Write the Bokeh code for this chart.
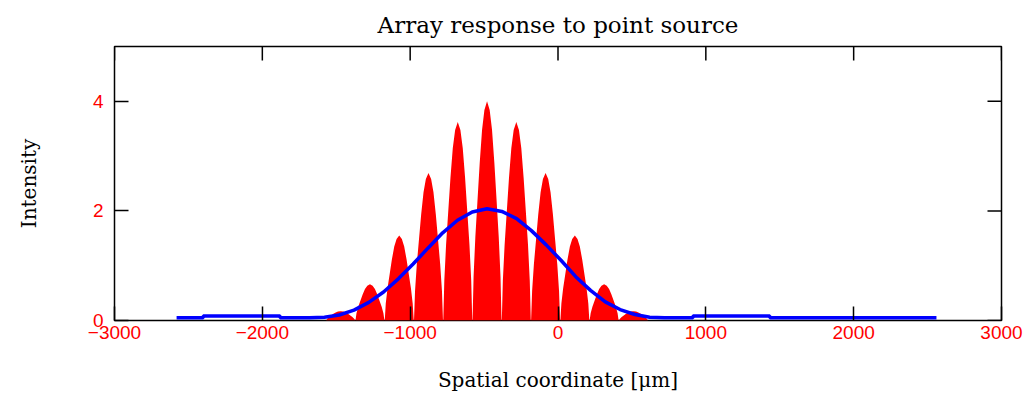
import math
from bokeh.plotting import figure
from bokeh.models import Range1d, FixedTicker
from bokeh.embed import file_html
from bokeh.resources import INLINE

# ---- data ----
fringe_centers = [-1470, -1272, -1074, -876, -678, -480, -282, -84, 114, 312, 510]
fringe_peaks = [0.17, 0.66, 1.55, 2.69, 3.62, 4.0, 3.62, 2.69, 1.55, 0.66, 0.17]
fringe_period = 198
profile_u = [-0.495, -0.46, -0.40, -0.33, -0.25, -0.17, -0.09, 0.0,
             0.09, 0.17, 0.25, 0.33, 0.40, 0.46, 0.495]
profile_f = [0.0, 0.20, 0.38, 0.54, 0.72, 0.87, 0.96, 1.0,
             0.96, 0.87, 0.72, 0.54, 0.38, 0.20, 0.0]

envelope_x = [-2580, -2400, -2400, -1880, -1880, -1680, -1580, -1480, -1380, -1280,
              -1180, -1080, -980, -880, -780, -680, -580, -480, -380, -280,
              -180, -80, 20, 120, 220, 320, 420, 520, 620, 720,
              913, 913, 1433, 1433, 2560]
envelope_y = [0.05, 0.05, 0.08, 0.08, 0.05, 0.05, 0.06, 0.10, 0.19, 0.33,
              0.52, 0.76, 1.03, 1.32, 1.60, 1.83, 1.98, 2.04, 1.99, 1.86,
              1.64, 1.38, 1.10, 0.80, 0.55, 0.34, 0.20, 0.11, 0.06, 0.05,
              0.05, 0.08, 0.08, 0.05, 0.05]

x_ticks = [-3000, -2000, -1000, 0, 1000, 2000, 3000]
x_tick_labels = ["\u22123000", "\u22122000", "\u22121000", "0", "1000", "2000", "3000"]
y_ticks = [0, 2, 4]
y_tick_labels = ["0", "2", "4"]
x_min, x_max = -3000, 3000
y_min, y_max = 0, 5

# ---- red fringe curve built from the fringe table ----
red_x, red_y = [], []
for c, h in zip(fringe_centers, fringe_peaks):
    for u, f in zip(profile_u, profile_f):
        red_x.append(c + u * fringe_period)
        red_y.append(h * f)

SERIF = "DejaVu Serif"
SANS = "Liberation Sans"

p = figure(width=1036, height=395, output_backend="svg", toolbar_location=None,
           x_range=Range1d(x_min, x_max), y_range=Range1d(y_min, y_max),
           min_border_left=114, min_border_right=35, min_border_top=46, min_border_bottom=75,
           title="Array response to point source")

p.title.text_font = SERIF
p.title.text_font_size = "23px"
p.title.text_font_style = "normal"
p.title.align = "center"
p.title.text_color = "black"
p.title.standoff = 18

p.grid.visible = False
p.outline_line_color = "black"
p.outline_line_width = 1.5
p.background_fill_color = "white"
p.border_fill_color = "white"

p.varea(x=red_x, y1=0, y2=red_y, fill_color="#ff0000", fill_alpha=1.0)
p.line(envelope_x, envelope_y, line_color="#0000ff", line_width=3.5)

# inner ticks on the top and right edges (mirror of the bottom/left ticks)
p.ray(x=x_ticks, y=[y_max] * len(x_ticks), length=14, length_units="screen",
      angle=-math.pi / 2, line_color="black", line_width=1.5)
p.ray(x=[x_max] * len(y_ticks), y=y_ticks, length=14, length_units="screen",
      angle=math.pi, line_color="black", line_width=1.5)

def style_axis(ax):
    ax.axis_line_color = None
    ax.major_tick_in = 14
    ax.major_tick_out = 0
    ax.minor_tick_line_color = None
    ax.major_tick_line_color = "black"
    ax.major_tick_line_width = 1.5
    ax.major_label_text_color = "#ff0000"
    ax.major_label_text_font = SANS
    ax.major_label_text_font_size = "19px"
    ax.axis_label_text_font = SERIF
    ax.axis_label_text_font_size = "20px"
    ax.axis_label_text_font_style = "normal"
    ax.axis_label_text_color = "black"

xa = p.xaxis[0]
xa.ticker = FixedTicker(ticks=x_ticks)
xa.major_label_overrides = dict(zip(x_ticks, x_tick_labels))
style_axis(xa)
xa.major_label_standoff = 5
xa.axis_label = "Spatial coordinate [\u03bcm]"
xa.axis_label_standoff = 26

ya = p.yaxis[0]
ya.ticker = FixedTicker(ticks=y_ticks)
ya.major_label_overrides = dict(zip(y_ticks, y_tick_labels))
style_axis(ya)
ya.major_label_standoff = 11
ya.axis_label = "Intensity"
ya.axis_label_standoff = 49

open("out.html", "w").write(file_html(p, INLINE))
